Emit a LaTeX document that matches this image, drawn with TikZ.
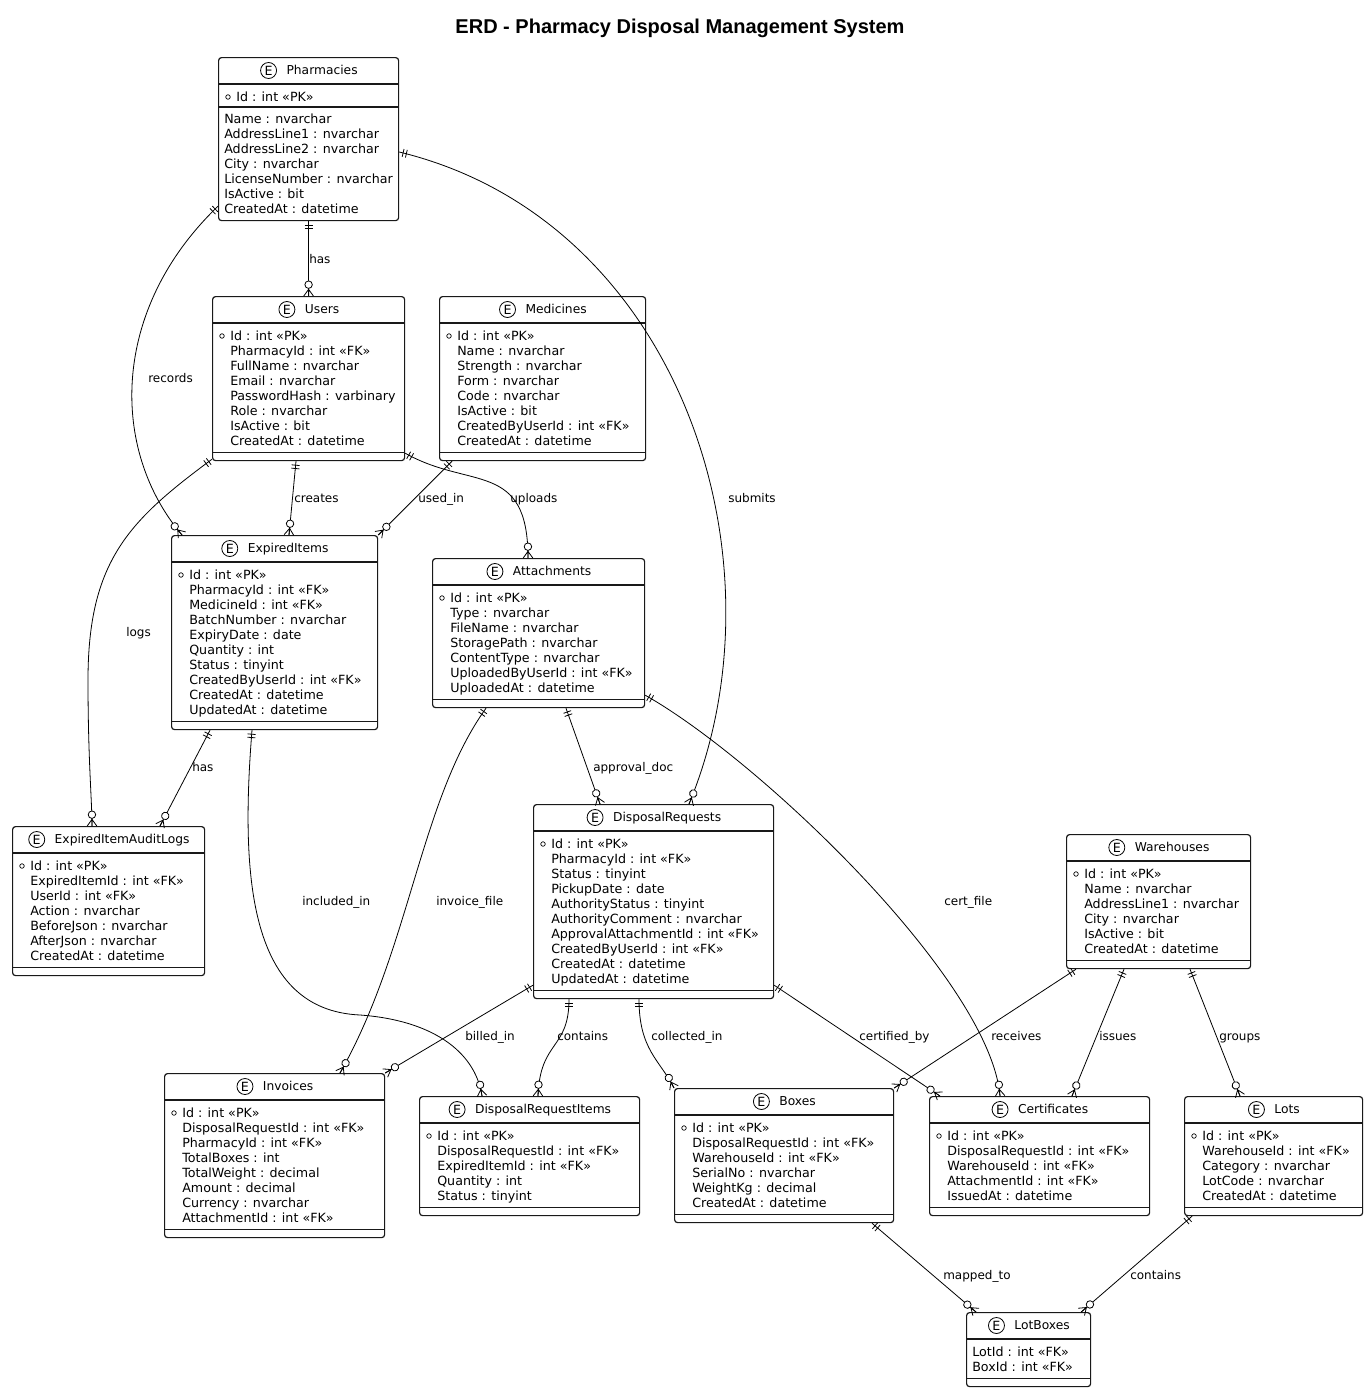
\documentclass[tikz,border=0pt]{standalone}
\usepackage{fontspec}
\setmainfont{DejaVu Sans}
\newfontfamily\headfont{Liberation Sans}
\usetikzlibrary{calc,positioning,decorations.markings}

\tikzset{
  ebox/.style={draw=black!90, line width=0.9pt, rounded corners=2.2pt, anchor=north west, inner sep=0pt, fill=white},
  esep/.style={draw=black!90, line width=0.9pt},
  etitle/.style={font=\fontsize{9.2}{11}\selectfont, inner sep=0pt, text height=6.7pt, text depth=0pt},
  ecirc/.style={draw, circle, line width=0.6pt, inner sep=0pt, minimum size=12pt, font=\fontsize{9.5}{10}\selectfont},
  eattr/.style={font=\fontsize{9.5}{11.25}\selectfont, align=left, inner sep=0pt, anchor=north west},
  rlabel/.style={font=\fontsize{9}{11}\selectfont, inner sep=0pt, anchor=west, text height=6.6pt, text depth=0pt},
  rel/.style={line width=0.6pt, postaction={decorate}, decoration={markings,
      mark=at position 0 with {\draw[line width=0.6pt] (3pt,-3pt) -- (3pt,3pt) (5.5pt,-3pt) -- (5.5pt,3pt);},
      mark=at position -1pt with {\draw[line width=0.6pt] (1pt,3.6pt) -- (-4pt,0pt) -- (1pt,-3.6pt) (-4pt,0pt) -- (1pt,0pt);
        \draw[line width=0.6pt, fill=white] (-7.5pt,0pt) circle (2.8pt);}}},
}

% entity box: name, x, y, width, rows, indent, title, attributes
\newcommand\erent[8]{%
  \node[ebox, minimum width=#4*0.75pt, minimum height={(44+15*#5)*0.75pt}] (#1) at (#2,#3) {};
  \draw[esep] ($(#1.north west)+(0,27)$) -- ++(#4,0);
  \draw[esep] ($(#1.south west)+(0,-9)$) -- ++(#4,0);
  \node[etitle] (#1-t) at ($(#1.north)+(13.5,13.5)$) {#7};
  \node[ecirc, left=7pt of #1-t] (#1-e) {E};
  \ifnum#6>10 \draw[line width=0.5pt] ($(#1.north west)+(10,40)$) circle (1.7pt);\fi
  \node[eattr] (#1-a) at ($(#1.north west)+(#6,34)$) {\strut#8};
}

\begin{document}
\begin{tikzpicture}[x=0.75pt, y=-0.75pt]
  \useasboundingbox (0,0) rectangle (1369,1392);

  \node[font=\headfont\bfseries\fontsize{15}{17}\selectfont, inner sep=0pt] (title) at (680,28) {ERD - Pharmacy Disposal Management System};

  % Pharmacies has its key in a section of its own
  \node[ebox, minimum width=135pt, minimum height=122.25pt] (pharm) at (218,57) {};
  \draw[esep] ($(pharm.north west)+(0,27)$) -- ++(180,0);
  \draw[esep] ($(pharm.north west)+(0,50)$) -- ++(180,0);
  \node[etitle] (pharm-t) at ($(pharm.north)+(13.5,13.5)$) {Pharmacies};
  \node[ecirc, left=7pt of pharm-t] (pharm-e) {E};
  \draw[line width=0.5pt] ($(pharm.north west)+(10,40)$) circle (1.7pt);
  \node[eattr] (pharm-k) at ($(pharm.north west)+(18,34)$) {\strut Id : int «PK»};
  \node[eattr] (pharm-a) at ($(pharm.north west)+(6,56)$) {\strut Name : nvarchar\\AddressLine1 : nvarchar\\AddressLine2 : nvarchar\\City : nvarchar\\LicenseNumber : nvarchar\\IsActive : bit\\CreatedAt : datetime};

  \erent{users}{212}{296}{192}{8}{18}{Users}{Id : int «PK»\\PharmacyId : int «FK»\\FullName : nvarchar\\Email : nvarchar\\PasswordHash : varbinary\\Role : nvarchar\\IsActive : bit\\CreatedAt : datetime}
  \erent{meds}{439}{296}{206}{8}{18}{Medicines}{Id : int «PK»\\Name : nvarchar\\Strength : nvarchar\\Form : nvarchar\\Code : nvarchar\\IsActive : bit\\CreatedByUserId : int «FK»\\CreatedAt : datetime}
  \erent{items}{171}{535}{206}{10}{18}{ExpiredItems}{Id : int «PK»\\PharmacyId : int «FK»\\MedicineId : int «FK»\\BatchNumber : nvarchar\\ExpiryDate : date\\Quantity : int\\Status : tinyint\\CreatedByUserId : int «FK»\\CreatedAt : datetime\\UpdatedAt : datetime}
  \erent{attach}{432}{558}{212}{7}{18}{Attachments}{Id : int «PK»\\Type : nvarchar\\FileName : nvarchar\\StoragePath : nvarchar\\ContentType : nvarchar\\UploadedByUserId : int «FK»\\UploadedAt : datetime}
  \erent{audit}{12}{826}{192}{7}{18}{ExpiredItemAuditLogs}{Id : int «PK»\\ExpiredItemId : int «FK»\\UserId : int «FK»\\Action : nvarchar\\BeforeJson : nvarchar\\AfterJson : nvarchar\\CreatedAt : datetime}
  \erent{dreq}{533}{804}{240}{10}{18}{DisposalRequests}{Id : int «PK»\\PharmacyId : int «FK»\\Status : tinyint\\PickupDate : date\\AuthorityStatus : tinyint\\AuthorityComment : nvarchar\\ApprovalAttachmentId : int «FK»\\CreatedByUserId : int «FK»\\CreatedAt : datetime\\UpdatedAt : datetime}
  \erent{wh}{1066}{834}{184}{6}{18}{Warehouses}{Id : int «PK»\\Name : nvarchar\\AddressLine1 : nvarchar\\City : nvarchar\\IsActive : bit\\CreatedAt : datetime}
  \erent{inv}{164}{1073}{220}{8}{18}{Invoices}{Id : int «PK»\\DisposalRequestId : int «FK»\\PharmacyId : int «FK»\\TotalBoxes : int\\TotalWeight : decimal\\Amount : decimal\\Currency : nvarchar\\AttachmentId : int «FK»}
  \erent{dritems}{419}{1096}{220}{5}{18}{DisposalRequestItems}{Id : int «PK»\\DisposalRequestId : int «FK»\\ExpiredItemId : int «FK»\\Quantity : int\\Status : tinyint}
  \erent{boxes}{674}{1088}{219}{6}{18}{Boxes}{Id : int «PK»\\DisposalRequestId : int «FK»\\WarehouseId : int «FK»\\SerialNo : nvarchar\\WeightKg : decimal\\CreatedAt : datetime}
  \erent{certs}{929}{1096}{220}{5}{18}{Certificates}{Id : int «PK»\\DisposalRequestId : int «FK»\\WarehouseId : int «FK»\\AttachmentId : int «FK»\\IssuedAt : datetime}
  \erent{lots}{1184}{1096}{178}{5}{18}{Lots}{Id : int «PK»\\WarehouseId : int «FK»\\Category : nvarchar\\LotCode : nvarchar\\CreatedAt : datetime}
  \erent{lotbox}{966}{1312}{124}{2}{6}{LotBoxes}{LotId : int «FK»\\BoxId : int «FK»}

  % relations, the one side first
  \draw[rel] (pharm.south) -- (users.north);
  \draw[rel] ($(pharm.south west)+(0,-15)$) .. controls (110,310) and (110,450) .. ($(items.north west)+(11,0)$);
  \draw[rel] ($(pharm.north east)+(0,95)$) .. controls (680,220) and (790,560) .. ($(dreq.north west)+(156,0)$);
  \draw[rel] ($(users.south west)+(84,0)$) -- ($(items.north west)+(118,0)$);
  \draw[rel] ($(users.south west)+(0,-2)$) .. controls (130,520) and (88,560) .. (88,680) .. controls (88,760) and (92,800) .. ($(audit.north west)+(80,0)$);
  \draw[rel] ($(users.south east)+(0,-8)$) .. controls (470,490) and (528,460) .. ($(attach.north west)+(96,0)$);
  \draw[rel] ($(meds.south west)+(13,0)$) -- (items.north east);
  \draw[rel] ($(items.south west)+(39,0)$) -- ($(audit.north west)+(148,0)$);
  \draw[rel] ($(items.south west)+(81,0)$) .. controls (240,880) and (250,1010) .. (360,1015) .. controls (430,1020) and (475,1050) .. ($(dritems.north west)+(63,0)$);
  \draw[rel] ($(attach.south west)+(54,0)$) .. controls (420,800) and (410,950) .. ($(inv.north west)+(176,0)$);
  \draw[rel] ($(attach.south west)+(134,0)$) -- ($(dreq.north west)+(67,0)$);
  \draw[rel] ($(attach.south east)+(0,-13)$) .. controls (760,760) and (990,980) .. ($(certs.north west)+(71,0)$);
  \draw[rel] ($(dreq.south west)+(0,-14)$) -- (inv.north east);
  \draw[rel] ($(dreq.south west)+(36,0)$) .. controls (569,1050) and (540,1040) .. ($(dritems.north west)+(119,0)$);
  \draw[rel] ($(dreq.south west)+(106,0)$) .. controls (639,1050) and (660,1060) .. (boxes.north west);
  \draw[rel] ($(dreq.south east)+(0,-14)$) -- ($(certs.north west)+(11,0)$);
  \draw[rel] ($(wh.south west)+(10,0)$) -- (boxes.north east);
  \draw[rel] ($(wh.south west)+(58,0)$) -- ($(certs.north west)+(143,0)$);
  \draw[rel] ($(wh.south west)+(124,0)$) -- ($(lots.north west)+(56,0)$);
  \draw[rel] ($(boxes.south west)+(198,0)$) -- ($(lotbox.north west)+(10,0)$);
  \draw[rel] ($(lots.south west)+(8,0)$) -- ($(lotbox.north east)+(-10,0)$);

  % relation labels
  \node[rlabel] (l-has1) at (309,259) {has};
  \node[rlabel] (l-records) at (148,378) {records};
  \node[rlabel] (l-submits) at (728,498) {submits};
  \node[rlabel] (l-creates) at (294,498) {creates};
  \node[rlabel] (l-usedin) at (418,498) {used\_in};
  \node[rlabel] (l-uploads) at (510,498) {uploads};
  \node[rlabel] (l-logs) at (126,632) {logs};
  \node[rlabel] (l-has2) at (192,767) {has};
  \node[rlabel] (l-approval) at (593,767) {approval\_doc};
  \node[rlabel] (l-included) at (302,901) {included\_in};
  \node[rlabel] (l-invoice) at (436,901) {invoice\_file};
  \node[rlabel] (l-cert) at (944,901) {cert\_file};
  \node[rlabel] (l-billed) at (465,1036) {billed\_in};
  \node[rlabel] (l-contains1) at (557,1036) {contains};
  \node[rlabel] (l-collected) at (651,1036) {collected\_in};
  \node[rlabel] (l-certified) at (859,1036) {certified\_by};
  \node[rlabel] (l-receives) at (991,1036) {receives};
  \node[rlabel] (l-issues) at (1099,1036) {issues};
  \node[rlabel] (l-groups) at (1219,1036) {groups};
  \node[rlabel] (l-mapped) at (943,1275) {mapped\_to};
  \node[rlabel] (l-contains2) at (1130,1275) {contains};
\end{tikzpicture}
\end{document}
